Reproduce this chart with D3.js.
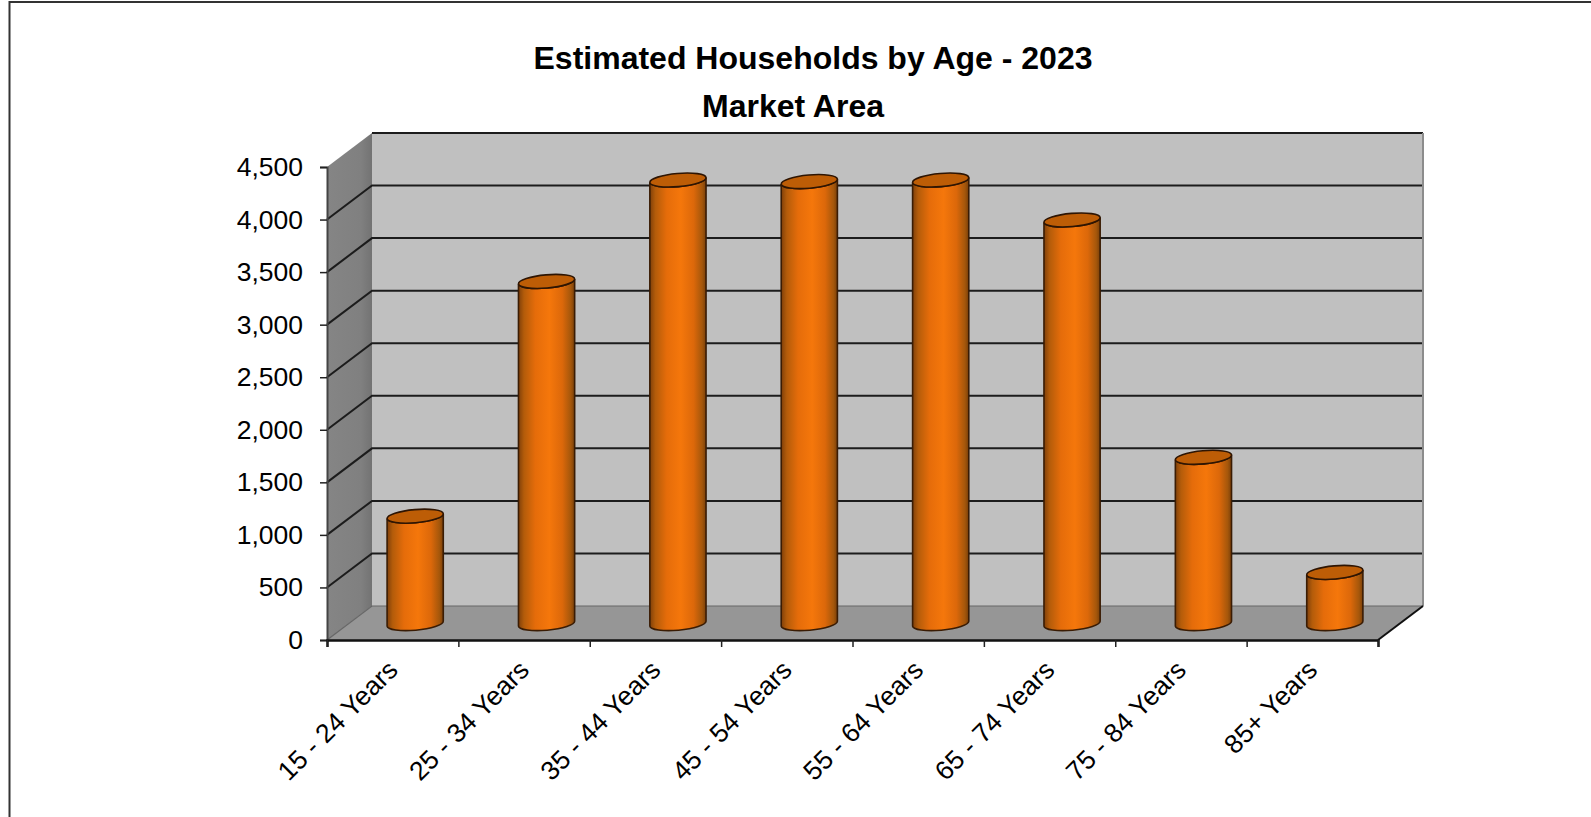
<!DOCTYPE html>
<html>
<head>
<meta charset="utf-8">
<title>Estimated Households by Age - 2023</title>
<script src="https://cdn.jsdelivr.net/npm/d3@7"></script>
<style>
  html, body { margin: 0; padding: 0; background: #fff; }
  svg { display: block; }
  text { font-family: "Liberation Sans", Arial, sans-serif; fill: #000; }
  .title { font-size: 32px; font-weight: bold; text-anchor: middle; }
  .axis text { font-size: 26.5px; }
</style>
</head>
<body>
<div id="chart"></div>
<script>
const categories = ['15 - 24 Years', '25 - 34 Years', '35 - 44 Years', '45 - 54 Years',
                    '55 - 64 Years', '65 - 74 Years', '75 - 84 Years', '85+ Years'];
const households = [1022, 3255, 4220, 4205, 4220, 3840, 1582, 487];
const yTicks = [0, 500, 1000, 1500, 2000, 2500, 3000, 3500, 4000, 4500];
const titleLines = ['Estimated Households by Age - 2023', 'Market Area'];

const W = 1591, H = 817;
const plot = { left: 327, right: 1378, top: 167, bottom: 640 };
const depth = { x: 45, y: -34 };   // back wall offset from the front plane

const svg = d3.select('#chart').append('svg').attr('width', W).attr('height', H);
const defs = svg.append('defs');

const x = d3.scaleBand().domain(categories).range([plot.left, plot.right]);
const xEdges = d3.scaleLinear().domain([0, categories.length]).range([plot.left, plot.right]);
const y = d3.scaleLinear().domain([0, 4500]).range([plot.bottom, plot.top]);

// cylinder shading
const grad = defs.append('linearGradient').attr('id', 'barGrad');
[[0, '#80400a'], [0.1, '#b45c0a'], [0.3, '#e56c0a'], [0.55, '#f5770b'], [0.78, '#dc680a'], [0.93, '#a5570b'], [1, '#7a400a']]
  .forEach(s => grad.append('stop').attr('offset', s[0]).attr('stop-color', s[1]));

const wallGrad = defs.append('linearGradient').attr('id', 'wallGrad');
[[0, '#858585'], [0.75, '#808080'], [1, '#737373']]
  .forEach(s => wallGrad.append('stop').attr('offset', s[0]).attr('stop-color', s[1]));

// page frame
svg.append('path').attr('d', `M9.5,${H}V2H${W}`).attr('fill', 'none').attr('stroke', '#333').attr('stroke-width', 2);

// titles
svg.selectAll('.title').data(titleLines).join('text')
  .attr('class', 'title')
  .attr('x', (d, i) => i === 0 ? 813 : 793)
  .attr('y', (d, i) => i === 0 ? 69 : 117)
  .text(d => d);

// walls and floor
const backL = plot.left + depth.x, backR = plot.right + depth.x;
svg.append('path')
  .attr('d', `M${plot.left},${plot.bottom}L${backL},${plot.bottom + depth.y}V${plot.top + depth.y}L${plot.left},${plot.top}Z`)
  .attr('fill', 'url(#wallGrad)');
svg.append('rect')
  .attr('x', backL).attr('y', plot.top + depth.y)
  .attr('width', backR - backL).attr('height', plot.bottom - plot.top)
  .attr('fill', '#c0c0c0');
svg.append('path')
  .attr('d', `M${plot.left},${plot.bottom}L${backL},${plot.bottom + depth.y}H${backR}L${plot.right},${plot.bottom}Z`)
  .attr('fill', '#969696');

// gridlines on side wall and back wall
svg.append('g').selectAll('path').data(yTicks.filter(d => d > 0 && d < 4500)).join('path')
  .attr('d', d => `M${plot.left},${y(d)}L${backL},${y(d) + depth.y}H${backR}`)
  .attr('fill', 'none').attr('stroke', '#1c1c1c').attr('stroke-width', 2);
svg.append('path')
  .attr('d', `M${backL},${y(4500) + depth.y}H${backR}`)
  .attr('fill', 'none').attr('stroke', '#1c1c1c').attr('stroke-width', 2);
svg.append('path')
  .attr('d', `M${backR},${y(4500) + depth.y}V${plot.bottom + depth.y}`)
  .attr('fill', 'none').attr('stroke', '#8c8c8c').attr('stroke-width', 2);
svg.append('path')
  .attr('d', `M${plot.left},${plot.bottom}L${backL},${plot.bottom + depth.y}H${backR}`)
  .attr('fill', 'none').attr('stroke', '#666').attr('stroke-width', 1.2);
svg.append('path')
  .attr('d', `M${plot.right},${plot.bottom}L${backR},${plot.bottom + depth.y}`)
  .attr('fill', 'none').attr('stroke', '#111').attr('stroke-width', 2);

// cylinders stand half way into the depth
const rx = 28.2, ry = 6.6, tilt = -5;
const dx = rx * Math.cos(tilt * Math.PI / 180), dy = rx * Math.sin(tilt * Math.PI / 180);
const barCx = d => x(d) + x.bandwidth() / 2 + depth.x / 2;
const barY = v => y(v) + depth.y / 2 + 0.6;

const bars = svg.append('g').selectAll('g')
  .data(categories.map((c, i) => ({ cat: c, val: households[i] })))
  .join('g');

bars.append('path')
  .attr('d', d => {
    const cx = barCx(d.cat), t = barY(d.val), b = barY(0);
    return `M${cx - dx},${t - dy}L${cx - dx},${b - dy}` +
      `A${rx},${ry} ${tilt} 0 0 ${cx + dx},${b + dy}` +
      `L${cx + dx},${t + dy}` +
      `A${rx},${ry} ${tilt} 0 1 ${cx - dx},${t - dy}Z`;
  })
  .attr('fill', 'url(#barGrad)')
  .attr('stroke', '#3a1c04').attr('stroke-width', 1.6);

bars.append('ellipse')
  .attr('rx', rx).attr('ry', ry)
  .attr('transform', d => `translate(${barCx(d.cat)},${barY(d.val)}) rotate(${tilt})`)
  .attr('fill', '#bd5d06')
  .attr('stroke', '#2e1503').attr('stroke-width', 1.6);

// y axis
const yAxis = svg.append('g').attr('class', 'axis')
  .attr('transform', `translate(${plot.left},0)`)
  .call(d3.axisLeft(y).tickValues(yTicks).tickFormat(d3.format(',')).tickSize(7).tickPadding(17));
yAxis.select('.domain').attr('stroke', '#444').attr('stroke-width', 2);
yAxis.selectAll('.tick line').attr('stroke', '#222').attr('stroke-width', 1.5);

// x axis: ticks on the band edges, labels from the band centres
const xTickAxis = svg.append('g').attr('class', 'axis')
  .attr('transform', `translate(0,${plot.bottom})`)
  .call(d3.axisBottom(xEdges).tickValues(d3.range(categories.length + 1)).tickFormat('').tickSize(7));
xTickAxis.select('.domain').attr('stroke', '#111').attr('stroke-width', 2.4);
xTickAxis.selectAll('.tick line').attr('stroke', '#222').attr('stroke-width', 1.5);

const xLabels = svg.append('g').attr('class', 'axis')
  .attr('transform', `translate(0,${plot.bottom})`)
  .call(d3.axisBottom(x).tickSize(0));
xLabels.select('.domain').remove();
xLabels.selectAll('text')
  .attr('text-anchor', 'end')
  .attr('transform', 'translate(0,25) rotate(-45)')
  .attr('x', 0).attr('y', 0).attr('dy', '0.35em');
</script>
</body>
</html>
